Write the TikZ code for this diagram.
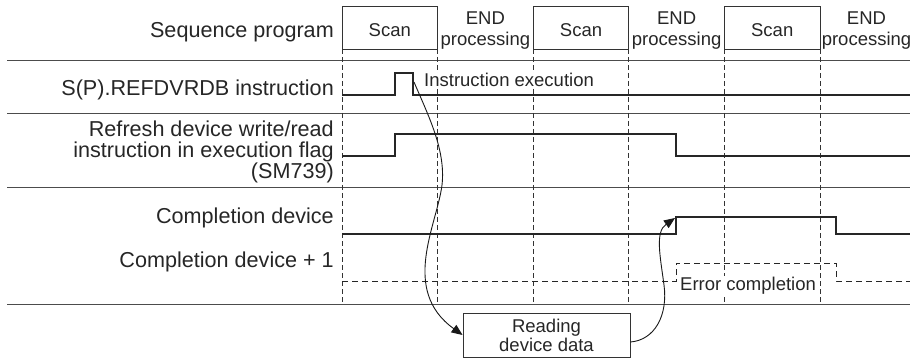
\documentclass[tikz,border=0pt]{standalone}
\usepackage{fontspec}
\setmainfont{Liberation Sans}
\usetikzlibrary{arrows.meta}
\begin{document}
\begin{tikzpicture}[x=1pt,y=-1pt,
  sep/.style={draw=black!70, line width=0.9pt},
  grid/.style={draw=black!80, line width=1pt, dash pattern=on 5pt off 3pt},
  sig/.style={draw=black!85, line width=1.1pt},
  dsig/.style={draw=black!85, line width=1pt, dash pattern=on 6pt off 4pt},
  lbl/.style={font=\fontsize{21.6}{21}\selectfont, text=black!85, inner sep=0pt, anchor=base east},
  txt/.style={font=\fontsize{18.5}{19}\selectfont, text=black!85, inner sep=0pt},
  box/.style={draw=black!80, line width=0.9pt, minimum width=95.6pt, minimum height=43pt, inner sep=0pt},
  rbox/.style={draw=black!80, line width=0.9pt, minimum width=167pt, minimum height=44pt, inner sep=0pt, align=center, font=\fontsize{18.5}{19}\selectfont, text=black!85},
  conn/.style={draw=black!90, line width=0.9pt, -{Triangle[length=11pt,width=9pt]}}]
\useasboundingbox (0,0) rectangle (910,358);

% separators
\draw[sep] (7,60) -- (910,60);
\draw[sep] (7,113) -- (910,113);
\draw[sep] (7,187) -- (910,187);
\draw[sep] (7,304) -- (910,304);

% time grid
\foreach \x in {342,437.6,533.2,628.8,724.4,820}
  \draw[grid] (\x,49) -- (\x,304);

% top boxes
\node[box] (sc1) at (389.8,27.5) {};
\node[box] (sc2) at (581,27.5) {};
\node[box] (sc3) at (772.2,27.5) {};
\node[txt, anchor=base] (sct1) at (389.8,36.5) {Scan};
\node[txt, anchor=base] (sct2) at (581,36.5) {Scan};
\node[txt, anchor=base] (sct3) at (772.2,36.5) {Scan};
\node[txt, anchor=base] (e1a) at (485.4,25) {END};
\node[txt, anchor=base] (e1b) at (485.4,46) {processing};
\node[txt, anchor=base] (e2a) at (676.6,25) {END};
\node[txt, anchor=base] (e2b) at (676.6,46) {processing};
\node[txt, anchor=base] (e3a) at (866.5,25) {END};
\node[txt, anchor=base] (e3b) at (866.5,46) {processing};

% signals
\draw[sig] (342,95) -- (395,95) -- (395,73) -- (413,73) -- (413,95) -- (910,95);
\draw[sig] (342,156) -- (395,156) -- (395,134) -- (676,134) -- (676,156) -- (910,156);
\draw[sig] (342,234) -- (676,234) -- (676,217) -- (836,217) -- (836,234) -- (910,234);
\draw[dsig] (342,281) -- (676,281) -- (676,263) -- (836,263) -- (836,281) -- (910,281);

% left labels
\node[lbl] (l1) at (334,38) {Sequence program};
\node[lbl] (l2) at (334,96) {S(P).REFDVRDB instruction};
\node[lbl] (l3a) at (334,137) {Refresh device write/read};
\node[lbl] (l3b) at (334,158) {instruction in execution flag};
\node[lbl] (l3c) at (334,179) {(SM739)};
\node[lbl] (l4) at (334,224) {Completion device};
\node[lbl] (l5) at (334,267) {Completion device + 1};

% in-diagram labels
\node[txt, anchor=base west, fill=white, inner sep=1pt] (ie) at (423,87) {Instruction execution};
\node[txt, anchor=base west, fill=white, inner sep=1pt] (ec) at (679,290) {Error completion};

% reading box
\node[rbox] (rd) at (546.5,335) {Reading\\device data};

% connectors
\coordinate (pf) at (414,82);
\coordinate (cd) at (675,218);
\draw[conn] (pf) .. controls (428,115) and (446,150) .. (442,185) .. controls (437,225) and (400,290) .. (rd.west);
\draw[conn] ([yshift=-7pt]rd.east) .. controls (655,340) and (668,315) .. (664,285) .. controls (660,255) and (655,232) .. (cd);
\end{tikzpicture}
\end{document}
